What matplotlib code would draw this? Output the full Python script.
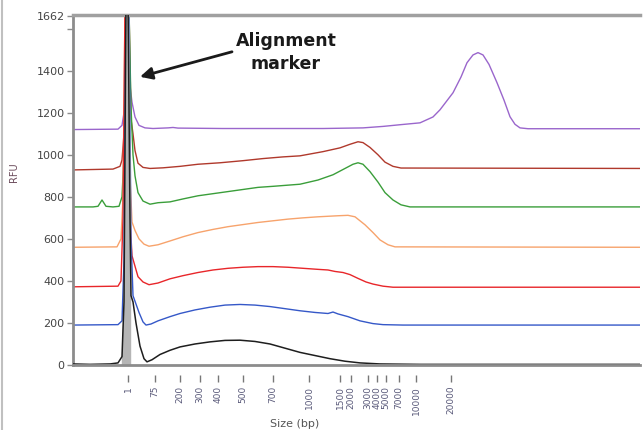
import matplotlib
matplotlib.use('Agg')
import matplotlib.pyplot as plt
from matplotlib.lines import Line2D

# Stacked electropherogram traces (x = migration position, y = RFU)
black_x = [0, 17, 37, 45, 49, 51, 53, 55, 57, 58, 60, 63, 67, 71, 74, 79, 87, 97, 107, 122, 137, 152, 167, 182, 197, 212, 227, 242, 257, 272, 287, 307, 347, 427, 567]
black_y = [5, 3, 5, 10, 40, 300, 1750, 1750, 700, 330, 300, 200, 90, 30, 15, 25, 50, 70, 86, 100, 110, 117, 118, 112, 100, 80, 60, 45, 30, 18, 10, 5, 3, 3, 3]

blue_x = [0, 45, 49, 51, 53, 56, 58, 60, 63, 66, 70, 73, 78, 85, 97, 107, 122, 137, 152, 167, 182, 197, 212, 227, 242, 255, 260, 265, 275, 287, 300, 310, 330, 567]
blue_y = [190, 192, 210, 500, 1720, 1720, 600, 330, 290, 250, 205, 190, 195, 210, 230, 245, 262, 275, 285, 288, 285, 278, 268, 258, 250, 245, 252, 243, 230, 210, 197, 192, 190, 190]

red_x = [0, 45, 48, 50, 52, 55, 57, 59, 62, 65, 70, 76, 85, 97, 110, 125, 140, 155, 170, 185, 200, 215, 230, 245, 255, 262, 270, 277, 285, 293, 300, 310, 320, 567]
red_y = [372, 375, 400, 700, 1710, 1710, 700, 520, 470, 420, 395, 382, 390, 410, 425, 440, 452, 460, 465, 468, 468, 465, 460, 455, 452, 445, 440, 430, 412, 395, 385, 375, 370, 370]

orange_x = [0, 44, 48, 50, 52, 55, 57, 59, 62, 66, 71, 76, 85, 97, 110, 125, 140, 155, 170, 185, 200, 215, 230, 245, 265, 275, 282, 292, 300, 307, 315, 322, 567]
orange_y = [560, 562, 600, 800, 1700, 1700, 900, 680, 640, 600, 575, 565, 572, 590, 610, 630, 645, 658, 668, 678, 686, 694, 700, 705, 710, 712, 705, 667, 630, 595, 572, 562, 560]

green_x = [0, 20, 25, 27, 29, 31, 33, 40, 46, 49, 51, 53, 56, 58, 60, 62, 65, 70, 77, 85, 97, 110, 125, 140, 155, 170, 185, 200, 227, 245, 260, 270, 280, 285, 290, 297, 305, 312, 320, 328, 337, 567]
green_y = [752, 752, 755, 770, 785, 770, 755, 752, 755, 800, 1000, 1700, 1700, 1228, 1000, 900, 820, 780, 765, 772, 776, 790, 805, 815, 825, 835, 845, 850, 860, 880, 905, 930, 955, 962, 955, 920, 870, 820, 785, 762, 752, 752]

darkred_x = [0, 20, 40, 47, 49, 51, 53, 56, 58, 60, 62, 65, 70, 77, 90, 107, 125, 147, 170, 190, 210, 227, 250, 267, 277, 285, 290, 297, 305, 312, 320, 328, 567]
darkred_y = [928, 930, 932, 945, 975, 1100, 1700, 1700, 1170, 1100, 1020, 960, 940, 935, 938, 945, 955, 962, 972, 982, 990, 995, 1015, 1033, 1050, 1062, 1058, 1035, 1000, 965, 945, 937, 935]

purple_x = [0, 45, 49, 51, 53, 55, 57, 59, 62, 66, 72, 80, 95, 100, 105, 150, 200, 250, 290, 310, 327, 347, 360, 367, 380, 388, 394, 400, 405, 410, 416, 424, 431, 437, 442, 447, 455, 567]
purple_y = [1120, 1122, 1140, 1200, 1320, 1380, 1330, 1250, 1180, 1140, 1128, 1125, 1128, 1130, 1127, 1125, 1125, 1125, 1128, 1135, 1143, 1152, 1180, 1214, 1295, 1370, 1438, 1475, 1486, 1475, 1430, 1343, 1260, 1181, 1145, 1128, 1124, 1124]

tick_pos = [55, 82, 107, 127, 145, 170, 200, 236, 267, 278, 295, 304, 313, 326, 343, 378]
tick_labels = ['1', '75', '200', '300', '400', '500', '700', '1000', '1500', '2000',
               '3000', '4000', '5000', '7000', '10000', '20000']

y_ticks = [0, 200, 400, 600, 800, 1000, 1200, 1400, 1600, 1662]
y_labels = ['0', '200', '400', '600', '800', '1000', '1200', '1400', '', '1662']

fig = plt.figure(figsize=(6.44, 4.30), dpi=100)
ax = fig.add_axes([73 / 644, 65 / 430, 567 / 644, 350 / 430])

traces = [
    (purple_x, purple_y, '#9a66cc'),
    (darkred_x, darkred_y, '#b0392c'),
    (green_x, green_y, '#3a9e3a'),
    (orange_x, orange_y, '#f7a36c'),
    (red_x, red_y, '#e8262a'),
    (blue_x, blue_y, '#3558c8'),
]
for xs, ys, c in traces:
    ax.plot(xs, ys, color=c, lw=1.0)

# marker peak of the bottom trace shows as a grey band
ax.fill_between(black_x[4:9], 0, black_y[4:9], color='#b5b5b5', zorder=2)
ax.plot(black_x, black_y, color='#1e1e1e', lw=1.1, zorder=3)

ax.set_xlim(0, 567)
ax.set_ylim(0, 1665)

# axis styling
ax.spines['right'].set_visible(False)
ax.spines['left'].set_color('#8c8c8c')
ax.spines['left'].set_linewidth(2)
ax.spines['top'].set_color('#a0a0a0')
ax.spines['top'].set_linewidth(2.5)
ax.spines['bottom'].set_color('none')
ax.spines['bottom'].set_position(('outward', 7))
ax.axhline(0, color='#8c8c8c', lw=2, zorder=4, clip_on=False)

ax.set_yticks(y_ticks)
ax.set_yticklabels(y_labels)
ax.tick_params(axis='y', length=4, width=1, color='#8c8c8c', labelsize=8, labelcolor='#444444', pad=2)

ax.set_xticks(tick_pos)
ax.set_xticklabels(tick_labels, rotation=90)
ax.tick_params(axis='x', length=5, width=1, color='#777777', labelsize=6.5, labelcolor='#5a5a7a', pad=3)

ax.set_ylabel('RFU', fontsize=7, color='#6a4a5a')
ax.yaxis.set_label_coords(-0.095, 0.55)
ax.set_xlabel('Size (bp)', fontsize=8, color='#555555')
ax.xaxis.set_label_coords(0.39, -0.155)

ax.text(213, 1486, 'Alignment\nmarker', ha='center', va='center', fontsize=12.5,
        fontweight='bold', color='#1a1a1a', linespacing=1.35)
ax.annotate('', xy=(67, 1371), xytext=(159, 1490),
            arrowprops=dict(arrowstyle='-|>', color='#1a1a1a', lw=2,
                            mutation_scale=18, shrinkA=0, shrinkB=0))

fig.add_artist(Line2D([0.003, 0.003], [0, 1], color='#c0c0c0', lw=1.5))

fig.savefig('out.png', dpi=100)
